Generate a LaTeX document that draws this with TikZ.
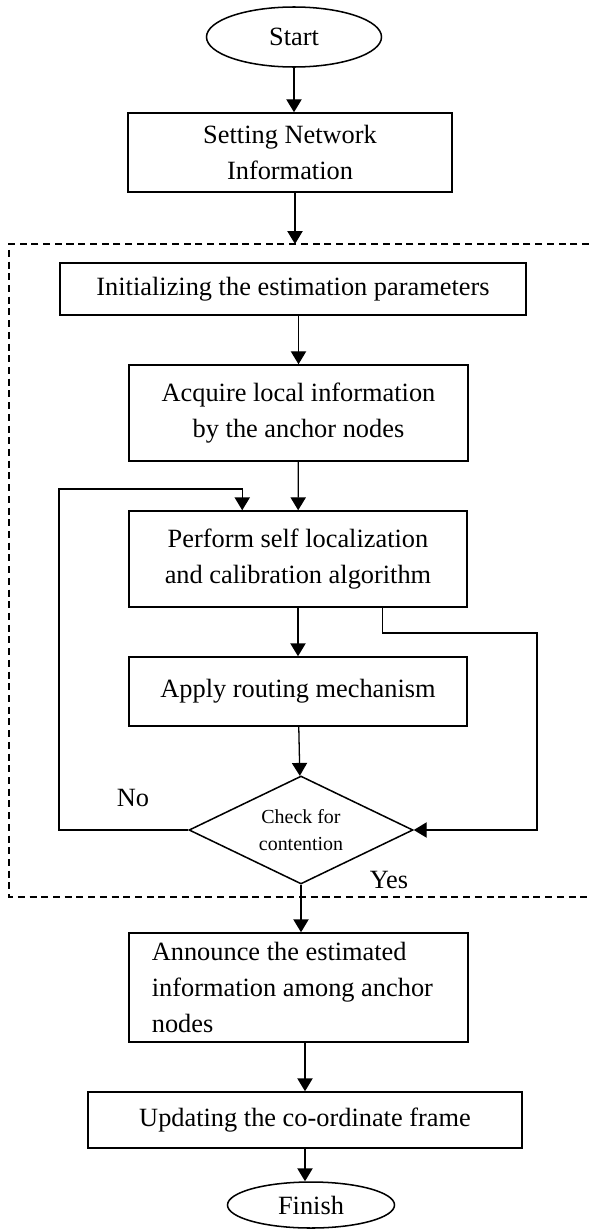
\documentclass[tikz,border=0pt]{standalone}
\usepackage{fontspec}
\setmainfont{Liberation Serif}
\usetikzlibrary{shapes.geometric,arrows.meta}
\tikzset{
  boite/.style={draw,line width=1.3pt,inner sep=2pt,align=center},
  fleche/.style={line width=1.1pt,-{Triangle[width=13pt,length=11pt]}},
}
\begin{document}
\begin{tikzpicture}[x=0.03cm,y=-0.03cm,font=\fontsize{22.5}{31}\selectfont]
\useasboundingbox (0,0) rectangle (589,1229);
\node[boite,ellipse,minimum width=5.25cm,minimum height=1.8cm,inner sep=0pt] (start) at (294,37) {Start};
\node[boite,minimum width=9.72cm,minimum height=2.37cm] (setnet) at (290,152.5) {Setting Network\\Information};
\node[boite,minimum width=13.98cm,minimum height=1.56cm] (init) at (293,289) {Initializing the estimation parameters};
\node[boite,minimum width=10.17cm,minimum height=2.88cm] (acquire) at (298.5,413) {Acquire local information\\by the anchor nodes};
\node[boite,minimum width=10.14cm,minimum height=2.88cm] (perform) at (298,559) {Perform self localization\\and calibration algorithm};
\node[boite,minimum width=10.14cm,minimum height=2.07cm] (apply) at (298,691.5) {Apply routing mechanism};
\node[boite,diamond,aspect=2,minimum width=6.72cm,minimum height=3.24cm,inner sep=0pt,font=\fontsize{17}{23}\selectfont] (check) at (301,830) {Check for\\contention};
\node[boite,align=flush left,text width=8.8cm,minimum width=10.17cm,minimum height=3.27cm] (announce) at (298.5,987.5) {Announce the estimated\\information among anchor\\nodes};
\node[boite,minimum width=13.02cm,minimum height=1.68cm] (update) at (305,1120) {Updating the co-ordinate frame};
\node[boite,ellipse,minimum width=5.01cm,minimum height=1.38cm,inner sep=0pt] (finish) at (311,1205) {Finish};

\node (no) at (133,798) {No};
\node (yes) at (389,880) {Yes};

% cadre pointille
\draw[line width=1.1pt,dash pattern=on 6pt off 4pt] (589,244) -- (9,244) -- (9,897) -- (589,897);

\coordinate (entree) at (295,244);
\coordinate (nonG) at (59,489);
\coordinate (retourD) at (537,633);

\draw[fleche] (start.south) -- (start.south |- setnet.north);
\draw[fleche] (setnet.south -| entree) -- (entree);
\draw[fleche] (acquire.north |- init.south) -- (acquire.north);
\draw[fleche] (acquire) -- (perform);
\draw[fleche] (perform) -- (apply);
\draw[fleche] (apply) -- (check);
\draw[fleche] (check.south) -- (check.south |- announce.north);
\draw[fleche] (update.north |- announce.south) -- (update.north);
\draw[fleche] (update.south) -- (update.south |- finish.north);
\draw[fleche] (check.west) -| (nonG) -| ([xshift=3.42cm]perform.north west);
\draw[fleche] ([xshift=-2.55cm]perform.south east) |- (retourD) |- (check.east);
\end{tikzpicture}
\end{document}
